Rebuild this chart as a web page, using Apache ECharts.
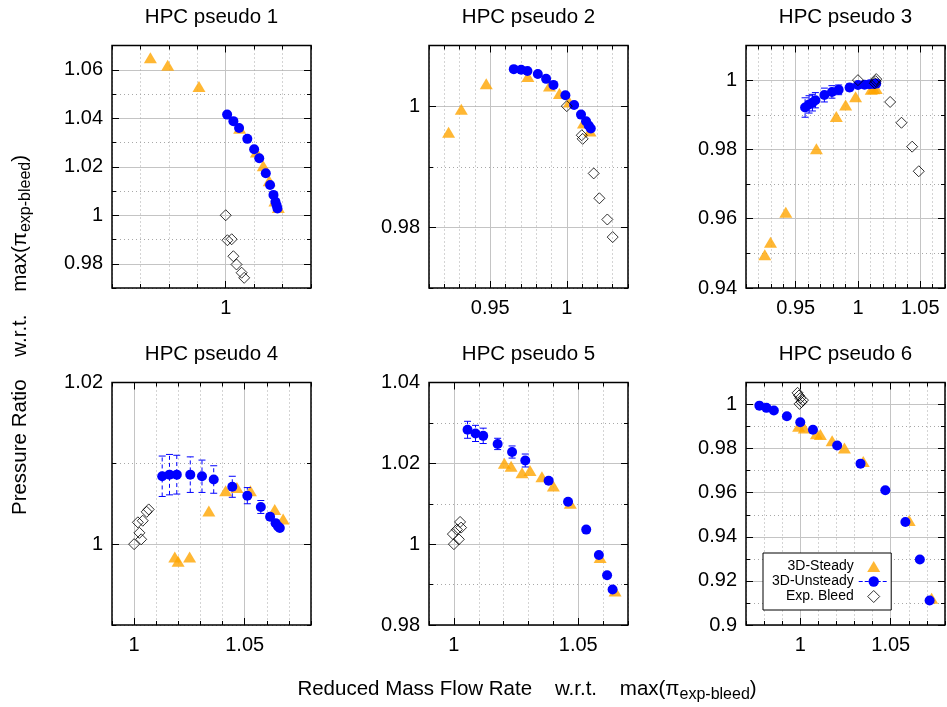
<!DOCTYPE html>
<html><head><meta charset="utf-8">
<script src="https://cdn.jsdelivr.net/npm/echarts@6/dist/echarts.min.js"></script>
<style>html,body{margin:0;padding:0;background:#fff}#c{width:947px;height:707px}</style>
</head><body><div id="c"></div>
<script>
// ---------- data ----------
const panelTitles = ['HPC pseudo 1','HPC pseudo 2','HPC pseudo 3','HPC pseudo 4','HPC pseudo 5','HPC pseudo 6'];
const seriesNames = ['3D-Steady','3D-Unsteady','Exp. Bleed'];

const xRanges = [[0.96,1.03],[0.91,1.04],[0.91,1.07],[0.99,1.08],[0.99,1.07],[0.97,1.08]];
const yRanges = [[0.97,1.07],[0.97,1.01],[0.94,1.01],[0.99,1.02],[0.98,1.04],[0.90,1.01]];
const xMajorTicks = [[1],[0.95,1],[0.95,1,1.05],[1,1.05],[1,1.05],[1,1.05]];
const yMajorTicks = [[0.98,1,1.02,1.04,1.06],[0.98,1],[0.94,0.96,0.98,1],[1,1.02],[0.98,1,1.02,1.04],[0.9,0.92,0.94,0.96,0.98,1]];
const minorStep = 0.01;

const p1Steady = [[0.9735,1.065],[0.9796,1.0619],[0.9906,1.0531],[1.0049,1.0359],[1.0108,1.0261],[1.0132,1.0204],[1.0153,1.0142],[1.0173,1.0059],[1.0185,1.0032]];
const p1Unsteady = [[1.0005,1.0415],[1.0027,1.0388],[1.0047,1.036],[1.0076,1.0315],[1.01,1.0272],[1.0118,1.0235],[1.0141,1.0173],[1.0156,1.0125],[1.0168,1.0084],[1.0175,1.0056],[1.0179,1.0041],[1.0182,1.0028]];
const p1Err = [0,0,0,0,0,0,0,0,0,0,0,0];
const p1Exp = [[1.0,1.0],[1.0006,0.9897],[1.0021,0.9901],[1.0027,0.9831],[1.0038,0.9797],[1.0056,0.9763],[1.0065,0.9742]];

const p2Steady = [[0.9228,0.9957],[0.9311,0.9995],[0.9474,1.0037],[0.9746,1.0049],[0.9887,1.0033],[0.9952,1.0021],[1.0017,1.0007],[1.0109,0.9972],[1.0152,0.9959]];
const p2Unsteady = [[0.9654,1.0061],[0.9702,1.006],[0.9743,1.0058],[0.9811,1.0053],[0.9865,1.0045],[0.9913,1.0035],[0.9991,1.0018],[1.0048,1.0002],[1.0093,0.9986],[1.0126,0.9975],[1.0143,0.9968],[1.0157,0.9963]];
const p2Err = [0,0,0,0,0,0,0,0,0,0,0,0];
const p2Exp = [[1.0,1.0],[1.0098,0.9952],[1.0104,0.9946],[1.0176,0.9889],[1.0213,0.9848],[1.0265,0.9813],[1.03,0.9784]];

const p3Steady = [[0.9251,0.9496],[0.9297,0.9532],[0.942,0.9619],[0.9666,0.9802],[0.9826,0.9895],[0.9901,0.9928],[0.9981,0.9952],[1.0107,0.9974],[1.0127,0.9975],[1.0147,0.9976]];
const p3Unsteady = [[0.9575,0.9921],[0.9607,0.993],[0.9634,0.9935],[0.9658,0.9942],[0.973,0.9957],[0.9791,0.9966],[0.9845,0.9972],[0.9933,0.9979],[1.0,0.9986],[1.0053,0.9987],[1.0094,0.9988],[1.0126,0.9989],[1.0147,0.999]];
const p3Err = [0.0028,0.0025,0.0024,0.0022,0.002,0.0018,0.0014,0.001,0.0007,0.0005,0.0004,0.0003,0.0003];
const p3Exp = [[1.0,1.0],[1.0147,1.0003],[1.0142,0.9997],[1.0136,0.9991],[1.0259,0.9937],[1.035,0.9877],[1.0436,0.9808],[1.0489,0.9737]];

const p4Steady = [[1.0184,0.9984],[1.0199,0.9979],[1.0251,0.9984],[1.0338,1.0041],[1.0414,1.0066],[1.0465,1.007],[1.0526,1.0066],[1.0636,1.0043],[1.0674,1.0031]];
const p4Unsteady = [[1.0127,1.0084],[1.016,1.0086],[1.0193,1.0086],[1.0254,1.0086],[1.0307,1.0084],[1.036,1.008],[1.0444,1.0071],[1.0512,1.006],[1.0573,1.0046],[1.0615,1.0034],[1.064,1.0026],[1.0651,1.0022],[1.0659,1.002]];
const p4Err = [0.0025,0.0025,0.0024,0.0022,0.002,0.0017,0.0013,0.001,0.0008,0.0004,0.0003,0.0002,0.0002];
const p4Exp = [[1.0,1.0],[1.0032,1.0006],[1.0024,1.0014],[1.0017,1.0027],[1.0039,1.0029],[1.0057,1.004],[1.0066,1.0043]];

const p5Steady = [[1.0203,1.02],[1.023,1.0193],[1.0274,1.0177],[1.0306,1.0182],[1.0354,1.0167],[1.04,1.0144],[1.0468,1.0101],[1.0588,0.9967],[1.0648,0.9884]];
const p5Unsteady = [[1.0055,1.0283],[1.0087,1.0274],[1.0118,1.0268],[1.0176,1.0248],[1.0234,1.0228],[1.0287,1.0207],[1.0381,1.0157],[1.0459,1.0105],[1.0532,1.0036],[1.0583,0.9973],[1.0616,0.9923],[1.0638,0.9888]];
const p5Err = [0.0021,0.002,0.0019,0.0014,0.0015,0.0016,0.0006,0.0005,0.0003,0.0003,0.0002,0.0002];
const p5Exp = [[1.0,1.0],[1.002,1.0012],[0.9996,1.0025],[1.0012,1.0036],[1.0029,1.0041],[1.0025,1.0055]];

const p6Steady = [[0.9991,0.9902],[1.0022,0.9894],[1.0089,0.9867],[1.0111,0.9864],[1.0176,0.9836],[1.0244,0.9803],[1.0348,0.9742],[1.0602,0.9474],[1.0726,0.9121]];
const p6Unsteady = [[0.9774,0.9995],[0.9813,0.9985],[0.9854,0.9973],[0.9926,0.9947],[1.0,0.992],[1.007,0.9886],[1.0204,0.9814],[1.0333,0.9732],[1.047,0.9611],[1.0581,0.9467],[1.0661,0.9297],[1.0715,0.9111]];
const p6Err = [0,0,0,0,0,0,0,0,0,0,0,0];
const p6Exp = [[0.9985,1.0053],[0.9993,1.0041],[1.0,1.0029],[1.0015,1.002],[1.0007,1.0011],[0.9996,1.0003]];

const steadyData = [p1Steady,p2Steady,p3Steady,p4Steady,p5Steady,p6Steady];
const unsteadyData = [p1Unsteady,p2Unsteady,p3Unsteady,p4Unsteady,p5Unsteady,p6Unsteady];
const errData = [p1Err,p2Err,p3Err,p4Err,p5Err,p6Err];
const expData = [p1Exp,p2Exp,p3Exp,p4Exp,p5Exp,p6Exp];

// ---------- layout ----------
const FONT = 'Liberation Sans, Arial, sans-serif';
const gridPos = [[112,45.5],[429,45.5],[746,45.5],[112,382.5],[429,382.5],[746,382.5]];
const GW = 199, GH = 242.5;
const ORANGE = '#FFA500', BLUE = '#0000FF';

const fmt = v => String(parseFloat((+v).toFixed(3)));

function axesFor(dim, g, range, majors) {
  const lo = dim === 'x' ? 'bottom' : 'left';
  const hi = dim === 'x' ? 'top' : 'right';
  const base = {type:'value', gridIndex:g, min:range[0], max:range[1],
    axisLine:{show:false,onZero:false}, axisLabel:{show:false},
    splitLine:{show:false}, axisTick:{show:false}, z:0};
  const minorTick = {show:true, inside:true, length:4, lineStyle:{color:'#000', width:1}};
  const majorTick = {show:true, inside:true, length:7, lineStyle:{color:'#000', width:1}, customValues:majors};
  return [
    Object.assign({}, base, {position:lo, interval:minorStep, axisTick:minorTick,
      splitLine:{show:true, lineStyle:{color:'#a8a8a8', width:1, type:[1,3]}}}),
    Object.assign({}, base, {position:lo, axisTick:majorTick,
      axisLabel:{show:true, customValues:majors, formatter:fmt, fontSize:20, fontFamily:FONT, color:'#000', margin: dim==='x'?10:9},
      splitLine:{show:true, lineStyle:{color:'#c4c4c4', width:1}}}),
    Object.assign({}, base, {position:hi, interval:minorStep, axisTick:minorTick}),
    Object.assign({}, base, {position:hi, axisTick:majorTick})
  ];
}

const grids = [], xAxes = [], yAxes = [], series = [], graphics = [];
for (let g = 0; g < 6; g++) {
  grids.push({left:gridPos[g][0], top:gridPos[g][1], width:GW, height:GH, show:true,
    borderColor:'#000', borderWidth:1.5, backgroundColor:'transparent', z:1, containLabel:false});
  xAxes.push(...axesFor('x', g, xRanges[g], xMajorTicks[g]));
  yAxes.push(...axesFor('y', g, yRanges[g], yMajorTicks[g]));
  const ai = g * 4;
  series.push({name:seriesNames[0], type:'scatter', xAxisIndex:ai, yAxisIndex:ai,
    symbol:'triangle', symbolSize:[13,11], itemStyle:{color:ORANGE}, data:steadyData[g], z:2});
  const eb = unsteadyData[g].map((p,i) => [p[0], p[1]-errData[g][i], p[1]+errData[g][i]])
    .filter((d,i) => errData[g][i] > 0);
  series.push({type:'custom', xAxisIndex:ai, yAxisIndex:ai, data:eb, z:3, silent:true,
    renderItem:(params, api) => {
      const a = api.coord([api.value(0), api.value(1)]);
      const b = api.coord([api.value(0), api.value(2)]);
      const cw = 3.5;
      return {type:'group', children:[
        {type:'line', shape:{x1:a[0],y1:a[1],x2:b[0],y2:b[1]}, style:{stroke:BLUE, lineWidth:1, lineDash:[4,3]}},
        {type:'line', shape:{x1:a[0]-cw,y1:a[1],x2:a[0]+cw,y2:a[1]}, style:{stroke:BLUE, lineWidth:1}},
        {type:'line', shape:{x1:b[0]-cw,y1:b[1],x2:b[0]+cw,y2:b[1]}, style:{stroke:BLUE, lineWidth:1}}
      ]};
    }});
  series.push({name:seriesNames[1], type:'line', xAxisIndex:ai, yAxisIndex:ai,
    symbol:'circle', symbolSize:10, showSymbol:true, showAllSymbol:true,
    itemStyle:{color:BLUE}, lineStyle:{opacity:0, width:0}, data:unsteadyData[g], z:4});
  series.push({name:seriesNames[2], type:'scatter', xAxisIndex:ai, yAxisIndex:ai,
    symbol:'diamond', symbolSize:11,
    itemStyle:{color:'rgba(0,0,0,0)', borderColor:'#000', borderWidth:1}, data:expData[g], z:5});
  graphics.push({type:'text', x:gridPos[g][0]+GW/2, y:gridPos[g][1]-28, silent:true,
    style:{text:panelTitles[g], font:'20.5px ' + FONT, fill:'#000', align:'center', verticalAlign:'middle'}});
}

const axisTitleRich = {
  a:{fontSize:20.5, fontFamily:FONT, lineHeight:28, fill:'#000', color:'#000'},
  b:{fontSize:16, fontFamily:FONT, lineHeight:14, verticalAlign:'bottom', fill:'#000', color:'#000'}
};
graphics.push({type:'text', x:527, y:689, silent:true,
  style:{text:'{a|Reduced Mass Flow Rate    w.r.t.    max(π}{b|exp-bleed}{a|)}', rich:axisTitleRich,
    align:'center', verticalAlign:'middle', fill:'#000'}});
graphics.push({type:'text', x:20, y:335, rotation:Math.PI/2, silent:true,
  style:{text:'{a|Pressure Ratio    w.r.t.    max(π}{b|exp-bleed}{a|)}', rich:axisTitleRich,
    align:'center', verticalAlign:'middle', fill:'#000'}});

// legend icons: padded paths so the 30x13 icon box keeps the marker's shape
const triIcon = 'path://M0,0M30,13M8.5,12L15,1L21.5,12Z';
const diaIcon = 'path://M0,0M30,13M15,0.5L21,6.5L15,12.5L9,6.5Z';

const chart = echarts.init(document.getElementById('c'), null, {renderer:'canvas'});
chart.setOption({
  animation:false,
  backgroundColor:'#fff',
  grid:grids, xAxis:xAxes, yAxis:yAxes, series:series, graphic:graphics,
  legend:{
    data:[{name:seriesNames[0], icon:triIcon},
          {name:seriesNames[1], lineStyle:{opacity:1, width:1, type:'dashed', color:BLUE}},
          {name:seriesNames[2], icon:diaIcon, itemStyle:{color:'rgba(0,0,0,0)', borderColor:'#000', borderWidth:1}}],
    orient:'vertical', align:'right', left:763, top:553,
    itemWidth:30, itemHeight:13, itemGap:0, padding:[6,2,6,9],
    backgroundColor:'#fff', borderColor:'#000', borderWidth:1, borderRadius:0,
    textStyle:{fontSize:14, fontFamily:FONT, color:'#000', lineHeight:15},
    selectedMode:false, z:10
  }
});
</script></body></html>
